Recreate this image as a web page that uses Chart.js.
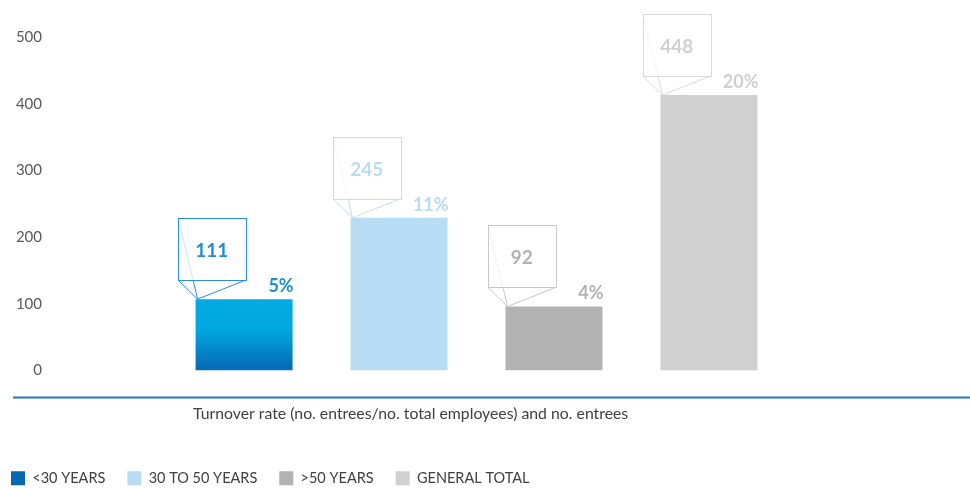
<!DOCTYPE html>
<html>
<head>
<meta charset="utf-8">
<script src="https://cdn.jsdelivr.net/npm/chart.js@4/dist/chart.umd.min.js"></script>
<style>
  html, body { margin: 0; padding: 0; background: #ffffff; }
  #wrap { width: 970px; height: 488px; position: relative; }
</style>
</head>
<body>
<div id="wrap"><canvas id="c" width="970" height="488"></canvas></div>
<script>
// ---- data ----
const seriesNames = ['<30 YEARS', '30 TO 50 YEARS', '>50 YEARS', 'GENERAL TOTAL'];
const barValues = [107, 229, 96, 413];          // drawn bar heights
const entreeLabels = ['111', '245', '92', '448']; // numbers shown in the callouts
const rateLabels = ['5%', '11%', '4%', '20%'];     // turnover rates shown above bars
const yTicks = [0, 100, 200, 300, 400, 500];
const xTitle = 'Turnover rate (no. entrees/no. total employees) and no. entrees';

// ---- styles ----
const fills = ['#00a9e0', '#b8dcf4', '#b2b2b2', '#d0d0d0'];
const textColors = ['#1c8ed6', '#b8dcf4', '#b2b2b2', '#d0d0d0'];
const strokeColors = ['#2a8fd8', '#c0def4', '#c8c8c8', '#dadada'];

Chart.defaults.font.family = 'Lato, "Open Sans", sans-serif';

function bar1Fill(ctx) {
  const chart = ctx.chart;
  const area = chart.chartArea;
  if (!area) return fills[0];
  const y = chart.scales.y;
  const g = chart.ctx.createLinearGradient(0, y.getPixelForValue(barValues[0]), 0, y.getPixelForValue(0));
  g.addColorStop(0, '#00aae2');
  g.addColorStop(0.42, '#00a8e0');
  g.addColorStop(1, '#0668b5');
  return g;
}

const datasets = seriesNames.map((name, i) => ({
  label: name,
  data: [barValues[i]],
  backgroundColor: i === 0 ? bar1Fill : fills[i],
  borderWidth: 0,
  categoryPercentage: 0.744,
  barPercentage: 0.626
}));

const LEG_PAD = 22;

const decorPlugin = {
  id: 'decor',
  afterLayout(chart) {
    const lg = chart.legend;
    if (lg) {
      const h = lg.height, w = lg.width;
      lg.left = 11 - LEG_PAD; lg.right = lg.left + w;
      lg.top = 478 - 7 - LEG_PAD; lg.bottom = lg.top + h;
      const x0 = lg.left + LEG_PAD;
      const g = chart.ctx.createLinearGradient(x0, 0, x0 + 14, 0);
      g.addColorStop(0, '#0064b0');
      g.addColorStop(1, '#00aae2');
      if (lg.legendItems && lg.legendItems[0]) lg.legendItems[0].fillStyle = g;
    }
  },
  afterDatasetsDraw(chart) {
    const c = chart.ctx;
    c.save();
    chart.data.datasets.forEach((ds, i) => {
      const meta = chart.getDatasetMeta(i);
      const bar = meta.data[0];
      if (!bar) return;
      const w = bar.width;
      const left = bar.x - w / 2;
      const right = bar.x + w / 2;
      const top = bar.y;
      // percentage label
      c.font = 'bold 18px Lato, "Open Sans", sans-serif';
      c.fillStyle = textColors[i];
      c.textAlign = 'right';
      c.textBaseline = 'alphabetic';
      c.fillText(rateLabels[i], right + 1, top - 7);
      // callout box
      const bl = left - 17.5, bw = 67.5, bh = 62;
      const bb = top - 19, bt = bb - bh;
      const tipX = left + 2, tipY = top;
      c.strokeStyle = strokeColors[i];
      c.lineWidth = 1;
      c.strokeRect(Math.round(bl) + 0.5, Math.round(bt) + 0.5, Math.round(bw), Math.round(bh));
      c.beginPath();
      c.moveTo(bl, bb); c.lineTo(tipX, tipY); c.lineTo(bl + bw, bb);
      c.moveTo(bl + 15, bb); c.lineTo(tipX, tipY);
      c.stroke();
      c.globalAlpha = 0.25;
      c.beginPath();
      c.moveTo(bl, bt); c.lineTo(bl + 15, bb);
      c.stroke();
      c.globalAlpha = 1;
      c.font = 'bold 19px Lato, "Open Sans", sans-serif';
      c.textAlign = 'center';
      c.fillText(entreeLabels[i], bl + bw / 2, bt + 39);
    });
    // axis line and title
    c.strokeStyle = '#1f77c0';
    c.lineWidth = 2;
    c.beginPath();
    c.moveTo(13, 397.5); c.lineTo(970, 397.5);
    c.stroke();
    c.font = '15.8px Lato, "Open Sans", sans-serif';
    c.fillStyle = '#404040';
    c.textAlign = 'left';
    c.textBaseline = 'middle';
    c.fillText(xTitle, 193, 414);
    c.restore();
  }
};

new Chart(document.getElementById('c'), {
  type: 'bar',
  data: { labels: [''], datasets },
  options: {
    responsive: false,
    animation: false,
    layout: { padding: { top: 37, right: 77, left: 0, bottom: 0 } },
    scales: {
      x: {
        grid: { display: false },
        border: { display: false },
        ticks: { display: false },
        afterFit: s => { s.height = 71; }
      },
      y: {
        min: 0, max: 500,
        afterBuildTicks: s => { s.ticks = yTicks.map(v => ({ value: v })); },
        grid: { display: false },
        border: { display: false },
        ticks: { padding: 10, color: '#595959', font: { size: 15 } },
        afterFit: s => { s.width = 60; }
      }
    },
    plugins: {
      legend: {
        position: 'bottom',
        align: 'start',
        labels: {
          boxWidth: 14, boxHeight: 14, padding: LEG_PAD,
          color: '#404040', font: { size: 14.5 }
        }
      },
      tooltip: { enabled: false }
    }
  },
  plugins: [decorPlugin]
});
</script>
</body>
</html>
